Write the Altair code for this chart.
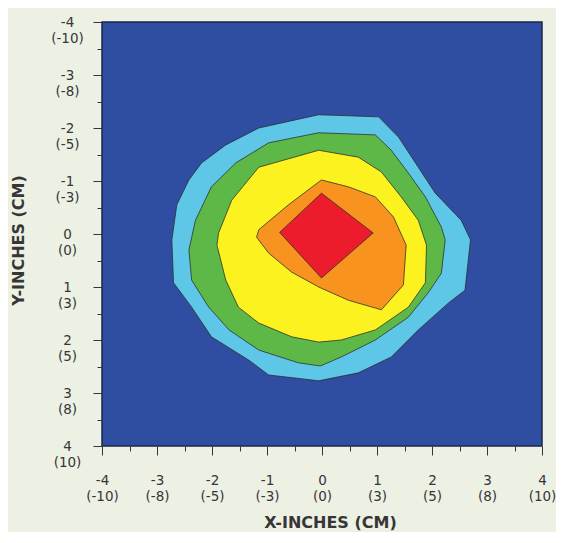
import altair as alt
import pandas as pd

# Axis tick labels (inches and centimetres)
inch_ticks = [-4, -3, -2, -1, 0, 1, 2, 3, 4]
inch_labels = ["-4", "-3", "-2", "-1", "0", "1", "2", "3", "4"]
cm_labels = ["(-10)", "(-8)", "(-5)", "(-3)", "(0)", "(3)", "(5)", "(8)", "(10)"]

# Contour levels, outermost first
level_names = ["Level 1", "Level 2", "Level 3", "Level 4", "Level 5"]
level_colors = ["#5EC6E7", "#5DB848", "#FBF21F", "#F7931E", "#EC1C2D"]
background_color = "#2F4EA1"

# Contour boundaries (inches)
lvl1_x = [-2.73, -2.70, -2.37, -2.01, -1.33, -0.97, -0.06, 0.66, 1.26, 1.75, 2.30, 2.60,
          2.70, 2.53, 2.06, 1.75, 1.39, 1.03, -0.06, -1.15, -1.75, -2.19, -2.42, -2.64]
lvl1_y = [0.11, 0.92, 1.38, 1.94, 2.38, 2.66, 2.77, 2.62, 2.32, 1.81, 1.30, 1.06,
          0.11, -0.26, -0.77, -1.26, -1.83, -2.21, -2.25, -2.00, -1.68, -1.34, -1.02, -0.55]

lvl2_x = [-2.42, -2.37, -2.06, -1.69, -1.15, -0.43, -0.03, 0.35, 0.97, 1.57, 1.93, 2.17,
          2.24, 2.17, 1.88, 1.57, 1.26, 0.97, -0.06, -0.97, -1.57, -2.01, -2.30]
lvl2_y = [0.30, 0.87, 1.38, 1.81, 2.19, 2.43, 2.49, 2.32, 2.00, 1.57, 1.11, 0.74,
          0.11, -0.13, -0.70, -1.15, -1.58, -1.87, -1.91, -1.72, -1.34, -0.89, -0.26]

lvl3_x = [-1.91, -1.75, -1.52, -1.15, -0.55, -0.06, 0.35, 0.97, 1.57, 1.88, 1.90, 1.75,
          1.44, 1.08, 0.66, -0.06, -1.15, -1.64, -1.88]
lvl3_y = [0.21, 0.87, 1.38, 1.68, 1.94, 2.04, 2.00, 1.81, 1.38, 0.92, 0.21, -0.26,
          -0.70, -1.17, -1.45, -1.58, -1.26, -0.64, -0.02]

lvl4_x = [-1.19, -0.97, -0.55, -0.06, 0.48, 1.08, 1.48, 1.53, 1.30, 0.97, 0.48, -0.01,
          -0.61, -1.15]
lvl4_y = [0.06, 0.36, 0.72, 1.00, 1.25, 1.43, 0.96, 0.21, -0.32, -0.70, -0.89, -1.02,
          -0.55, -0.08]

lvl5_x = [-0.77, -0.01, 0.93, -0.01]
lvl5_y = [-0.03, -0.77, -0.02, 0.83]

polys_x = [lvl1_x, lvl2_x, lvl3_x, lvl4_x, lvl5_x]
polys_y = [lvl1_y, lvl2_y, lvl3_y, lvl4_y, lvl5_y]

rows = []
for name, xs, ys in zip(level_names, polys_x, polys_y):
    for i, (x, y) in enumerate(zip(xs, ys)):
        rows.append({"level": name, "i": i, "x": x, "y": y})
df = pd.DataFrame(rows)

# Tick positions: every half inch, labels only on whole inches
tick_values = []
for t in inch_ticks:
    tick_values.append(t)
    if t < inch_ticks[-1]:
        tick_values.append(t + 0.5)

inch_arr = "[" + ",".join("'" + s + "'" for s in inch_labels) + "]"
cm_arr = "[" + ",".join("'" + s + "'" for s in cm_labels) + "]"
label_expr = (
    f"datum.value % 1 === 0 ? [{inch_arr}[datum.value + 4], {cm_arr}[datum.value + 4]] : ''"
)
tick_size = {"condition": {"test": "datum.value % 1 === 0", "value": 9}, "value": 5}

text_color = "#363636"
font = "DejaVu Sans"

x_axis = alt.Axis(
    values=tick_values, labelExpr=label_expr, tickSize=tick_size, tickColor=text_color,
    domain=False, grid=False, labelFont=font, labelFontSize=13.5, labelColor=text_color,
    labelLineHeight=16, labelPadding=18, labelOverlap=False, labelBound=False,
    labelAlign="center", labelBaseline="top",
    title="X-INCHES (CM)", titleFont=font, titleFontSize=16, titleFontWeight="bold",
    titleColor=text_color, titleX=228, titleY=76, titleBaseline="middle", titleAlign="center",
)
y_axis = alt.Axis(
    values=tick_values, labelExpr=label_expr, tickSize=tick_size, tickColor=text_color,
    domain=False, grid=False, labelFont=font, labelFontSize=13.5, labelColor=text_color,
    labelLineHeight=16, labelPadding=26, labelOverlap=False, labelBound=False,
    labelAlign="center", labelBaseline="middle",
    title="Y-INCHES (CM)", titleFont=font, titleFontSize=16, titleFontWeight="bold",
    titleColor=text_color, titleX=-84, titleY=218, titleBaseline="middle", titleAlign="center",
    titleAngle=270,
)

x_enc = alt.X("x:Q", scale=alt.Scale(domain=[-4, 4], nice=False, zero=False), axis=x_axis)
y_enc = alt.Y("y:Q", scale=alt.Scale(domain=[-4, 4], nice=False, zero=False, reverse=True),
              axis=y_axis)

layers = []
for name, color in zip(level_names, level_colors):
    layers.append(
        alt.Chart(df)
        .transform_filter(alt.datum.level == name)
        .mark_line(interpolate="linear-closed", fill=color, stroke="#2a2a2a",
                   strokeWidth=1, strokeOpacity=0.75)
        .encode(x=x_enc, y=y_enc, order="i:Q")
    )

chart = (
    alt.layer(*layers)
    .properties(
        width=440, height=424,
        autosize=alt.AutoSizeParams(type="none"),
        padding={"left": 94, "top": 14, "right": 14, "bottom": 86},
        background="#ECF1E4",
    )
    .configure_view(fill=background_color, stroke="#1E2545", strokeWidth=1.5)
)

chart.save("out.html", embed_options={"renderer": "svg", "actions": False})
